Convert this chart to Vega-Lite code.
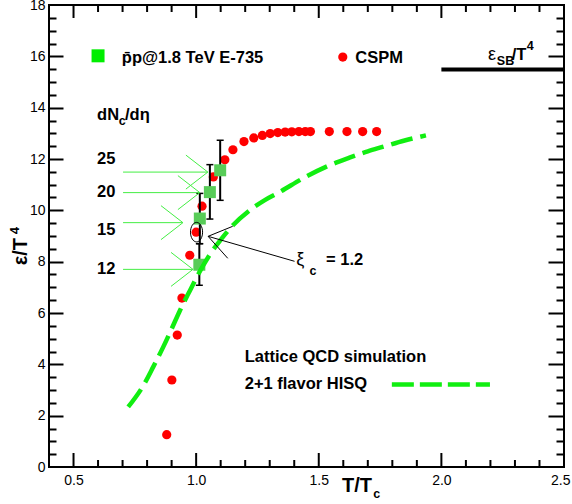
{
  "$schema": "https://vega.github.io/schema/vega-lite/v6.json",
  "width": 515,
  "height": 462,
  "autosize": {"type": "none"},
  "padding": {"left": 49, "top": 5, "right": 8, "bottom": 37},
  "background": "white",
  "config": {
    "view": {"stroke": "black", "strokeWidth": 2},
    "axis": {"labelFont": "Liberation Sans", "labelFontSize": 14, "labelColor": "black", "tickColor": "black", "grid": false, "domain": false, "labelFlush": false, "labelOverlap": false, "labelBound": false},
    "text": {"font": "Liberation Sans", "color": "black"}
  },
  "datasets": {
    "cspm": [
      {"T": 0.88, "e": 1.26}, {"T": 0.901, "e": 3.39}, {"T": 0.923, "e": 5.14}, {"T": 0.942, "e": 6.58},
      {"T": 0.974, "e": 8.25}, {"T": 1.0, "e": 9.15}, {"T": 1.024, "e": 10.16}, {"T": 1.07, "e": 11.3},
      {"T": 1.117, "e": 11.97}, {"T": 1.15, "e": 12.36}, {"T": 1.195, "e": 12.68}, {"T": 1.235, "e": 12.82},
      {"T": 1.27, "e": 12.92}, {"T": 1.302, "e": 12.99}, {"T": 1.333, "e": 13.03}, {"T": 1.363, "e": 13.05},
      {"T": 1.39, "e": 13.06}, {"T": 1.419, "e": 13.07}, {"T": 1.445, "e": 13.07}, {"T": 1.466, "e": 13.07},
      {"T": 1.543, "e": 13.07}, {"T": 1.615, "e": 13.07}, {"T": 1.679, "e": 13.07}, {"T": 1.736, "e": 13.07}
    ],
    "e735": [
      {"T": 1.013, "e": 7.88, "lo": 7.08, "hi": 8.7},
      {"T": 1.015, "e": 9.68, "lo": 8.7, "hi": 10.66},
      {"T": 1.056, "e": 10.71, "lo": 9.66, "hi": 11.78},
      {"T": 1.098, "e": 11.56, "lo": 10.39, "hi": 12.73}
    ],
    "qcd": [
      {"T": 0.723, "e": 2.34}, {"T": 0.785, "e": 3.18}, {"T": 0.825, "e": 3.9}, {"T": 0.866, "e": 4.68},
      {"T": 0.9, "e": 5.38}, {"T": 0.934, "e": 6.1}, {"T": 0.975, "e": 6.88}, {"T": 1.015, "e": 7.62},
      {"T": 1.063, "e": 8.38}, {"T": 1.1, "e": 8.85}, {"T": 1.15, "e": 9.42}, {"T": 1.218, "e": 10.0},
      {"T": 1.28, "e": 10.4}, {"T": 1.34, "e": 10.71}, {"T": 1.44, "e": 11.27}, {"T": 1.543, "e": 11.75},
      {"T": 1.625, "e": 12.05}, {"T": 1.7, "e": 12.3}, {"T": 1.76, "e": 12.47}, {"T": 1.85, "e": 12.72},
      {"T": 1.937, "e": 12.92}
    ],
    "qcdkey": [{"T": 1.798, "e": 3.21}, {"T": 2.198, "e": 3.21}],
    "sb": [{"T": 2.0, "T2": 2.5, "e": 15.49}],
    "xmaj": [{"v": 0.5}, {"v": 1.0}, {"v": 1.5}, {"v": 2.0}],
    "xmin": [{"v": 0.6}, {"v": 0.7}, {"v": 0.8}, {"v": 0.9}, {"v": 1.1}, {"v": 1.2}, {"v": 1.3}, {"v": 1.4},
             {"v": 1.6}, {"v": 1.7}, {"v": 1.8}, {"v": 1.9}, {"v": 2.1}, {"v": 2.2}, {"v": 2.3}, {"v": 2.4}],
    "arrows": [
      {"a": 0.702, "b": 11.49, "a2": 1.0476, "b2": 11.49},
      {"a": 1.0476, "b": 11.49, "a2": 0.9582, "b2": 12.152},
      {"a": 1.0476, "b": 11.49, "a2": 0.9582, "b2": 10.828},
      {"a": 0.702, "b": 10.69, "a2": 1.015, "b2": 10.69},
      {"a": 1.015, "b": 10.69, "a2": 0.9256, "b2": 11.352},
      {"a": 1.015, "b": 10.69, "a2": 0.9256, "b2": 10.028},
      {"a": 0.702, "b": 9.52, "a2": 0.946, "b2": 9.52},
      {"a": 0.946, "b": 9.52, "a2": 0.8566, "b2": 10.182},
      {"a": 0.946, "b": 9.52, "a2": 0.8566, "b2": 8.858},
      {"a": 0.702, "b": 7.7, "a2": 0.987, "b2": 7.7},
      {"a": 0.987, "b": 7.7, "a2": 0.8976, "b2": 8.362},
      {"a": 0.987, "b": 7.7, "a2": 0.8976, "b2": 7.038}
    ],
    "xi": [
      {"a": 1.0488, "b": 8.987, "a2": 1.149, "b2": 9.377},
      {"a": 1.0488, "b": 8.987, "a2": 1.1289, "b2": 8.131},
      {"a": 1.0488, "b": 8.987, "a2": 1.4012, "b2": 8.014}
    ],
    "circled": [{"T": 1.0016, "e": 9.15}],
    "keysq": [{"T": 0.6, "e": 16.02}],
    "keydot": [{"T": 1.598, "e": 15.97}],
    "tbold": [
      {"a": 0.697, "b": 15.73, "t": "p̄p@1.8 TeV E-735"},
      {"a": 1.649, "b": 15.73, "t": "CSPM"},
      {"a": 0.596, "b": 13.51, "t": "dN"},
      {"a": 0.71, "b": 13.51, "t": "/dη"},
      {"a": 0.596, "b": 11.82, "t": "25"},
      {"a": 0.596, "b": 10.52, "t": "20"},
      {"a": 0.596, "b": 9.03, "t": "15"},
      {"a": 0.596, "b": 7.53, "t": "12"},
      {"a": 1.53, "b": 7.857, "t": "= 1.2"},
      {"a": 1.198, "b": 4.09, "t": "Lattice QCD simulation"},
      {"a": 1.198, "b": 3.05, "t": "2+1 flavor HISQ"},
      {"a": 2.287, "b": 15.84, "t": "/T"}
    ],
    "treg": [
      {"a": 2.19, "b": 15.84, "t": "ε"},
      {"a": 1.408, "b": 7.857, "t": "ξ"}
    ],
    "tsub": [
      {"a": 0.684, "b": 13.31, "t": "c"},
      {"a": 1.462, "b": 7.468, "t": "c"},
      {"a": 2.226, "b": 15.65, "t": "SB"},
      {"a": 2.348, "b": 16.23, "t": "4"},
      {"a": 1.722, "b": -1.22, "t": "c"}
    ],
    "xtitle": [{"a": 1.595, "b": -0.974, "t": "T/T"}],
    "ytitle": [{"a": 0.3118, "b": 7.857, "t": "ε/T"}],
    "ysup": [{"a": 0.279, "b": 9.07, "t": "4"}]
  },
  "layer": [
    {
      "data": {"name": "cspm"},
      "mark": {"type": "point", "filled": true, "shape": "circle", "size": 85, "color": "#ff0000", "opacity": 1},
      "encoding": {
        "x": {"field": "T", "type": "quantitative", "scale": {"domain": [0.4, 2.5], "nice": false, "zero": false},
              "axis": {"orient": "bottom", "values": [0.5, 1, 1.5, 2, 2.5], "ticks": false, "labelPadding": 6, "labelFlush": true, "labelFlushOffset": 6, "title": null}},
        "y": {"field": "e", "type": "quantitative", "scale": {"domain": [0, 18], "nice": false, "zero": false},
              "axis": {"orient": "left", "values": [0, 2, 4, 6, 8, 10, 12, 14, 16, 18], "ticks": false, "labelPadding": 4, "title": null}}
      }
    },
    {
      "data": {"name": "e735"},
      "mark": {"type": "rule", "color": "black", "strokeWidth": 2},
      "encoding": {
        "x": {"field": "T", "type": "quantitative", "scale": {"domain": [0.4, 2.5], "nice": false, "zero": false}, "axis": null},
        "y": {"field": "lo", "type": "quantitative", "scale": {"domain": [0, 18], "nice": false, "zero": false},
              "axis": {"orient": "left", "values": [0.5, 1, 1.5, 2, 2.5, 3, 3.5, 4, 4.5, 5, 5.5, 6, 6.5, 7, 7.5, 8, 8.5, 9, 9.5, 10, 10.5, 11, 11.5, 12, 12.5, 13, 13.5, 14, 14.5, 15, 15.5, 16, 16.5, 17, 17.5], "labels": false, "tickWidth": 2, "title": null,
                       "tickSize": {"condition": {"test": "datum.value % 2 == 0", "value": -14}, "value": -7}}},
        "y2": {"field": "hi"}
      }
    },
    {
      "data": {"name": "e735"},
      "mark": {"type": "point", "shape": "stroke", "size": 49, "filled": false, "stroke": "black", "strokeWidth": 1.5, "opacity": 1},
      "encoding": {
        "x": {"field": "T", "type": "quantitative", "scale": {"domain": [0.4, 2.5], "nice": false, "zero": false}, "axis": null},
        "y": {"field": "lo", "type": "quantitative", "scale": {"domain": [0, 18], "nice": false, "zero": false},
              "axis": {"orient": "right", "values": [0.5, 1, 1.5, 2, 2.5, 3, 3.5, 4, 4.5, 5, 5.5, 6, 6.5, 7, 7.5, 8, 8.5, 9, 9.5, 10, 10.5, 11, 11.5, 12, 12.5, 13, 13.5, 14, 14.5, 15, 15.5, 16, 16.5, 17, 17.5], "labels": false, "tickWidth": 2, "title": null,
                       "tickSize": {"condition": {"test": "datum.value % 2 == 0", "value": -16}, "value": -8}}}
      }
    },
    {
      "data": {"name": "e735"},
      "mark": {"type": "point", "shape": "stroke", "size": 49, "filled": false, "stroke": "black", "strokeWidth": 1.5, "opacity": 1},
      "encoding": {
        "x": {"field": "T", "type": "quantitative", "scale": {"domain": [0.4, 2.5], "nice": false, "zero": false}, "axis": null},
        "y": {"field": "hi", "type": "quantitative", "scale": {"domain": [0, 18], "nice": false, "zero": false}, "axis": null}
      }
    },
    {
      "data": {"name": "xmaj"},
      "mark": {"type": "rule", "color": "black", "strokeWidth": 2},
      "encoding": {
        "x": {"field": "v", "type": "quantitative", "scale": {"domain": [0.4, 2.5], "nice": false, "zero": false}, "axis": null},
        "y": {"datum": 0, "type": "quantitative", "scale": {"domain": [0, 18], "nice": false, "zero": false}, "axis": null},
        "y2": {"datum": 0.545}
      }
    },
    {
      "data": {"name": "xmaj"},
      "mark": {"type": "rule", "color": "black", "strokeWidth": 2},
      "encoding": {
        "x": {"field": "v", "type": "quantitative", "scale": {"domain": [0.4, 2.5], "nice": false, "zero": false}, "axis": null},
        "y": {"datum": 18, "type": "quantitative", "scale": {"domain": [0, 18], "nice": false, "zero": false}, "axis": null},
        "y2": {"datum": 17.494}
      }
    },
    {
      "data": {"name": "xmin"},
      "mark": {"type": "rule", "color": "black", "strokeWidth": 2},
      "encoding": {
        "x": {"field": "v", "type": "quantitative", "scale": {"domain": [0.4, 2.5], "nice": false, "zero": false}, "axis": null},
        "y": {"datum": 0, "type": "quantitative", "scale": {"domain": [0, 18], "nice": false, "zero": false}, "axis": null},
        "y2": {"datum": 0.273}
      }
    },
    {
      "data": {"name": "xmin"},
      "mark": {"type": "rule", "color": "black", "strokeWidth": 2},
      "encoding": {
        "x": {"field": "v", "type": "quantitative", "scale": {"domain": [0.4, 2.5], "nice": false, "zero": false}, "axis": null},
        "y": {"datum": 18, "type": "quantitative", "scale": {"domain": [0, 18], "nice": false, "zero": false}, "axis": null},
        "y2": {"datum": 17.727}
      }
    },
    {
      "data": {"name": "e735"},
      "mark": {"type": "point", "shape": "square", "filled": true, "size": 144, "color": "#58cc58", "opacity": 1},
      "encoding": {
        "x": {"field": "T", "type": "quantitative", "scale": {"domain": [0.4, 2.5], "nice": false, "zero": false}, "axis": null},
        "y": {"field": "e", "type": "quantitative", "scale": {"domain": [0, 18], "nice": false, "zero": false}, "axis": null}
      }
    },
    {
      "data": {"name": "qcd"},
      "mark": {"type": "line", "color": "#11ee11", "strokeWidth": 4.5, "strokeDash": [22, 8], "strokeCap": "butt", "interpolate": "monotone"},
      "encoding": {
        "x": {"field": "T", "type": "quantitative", "scale": {"domain": [0.4, 2.5], "nice": false, "zero": false}, "axis": null},
        "y": {"field": "e", "type": "quantitative", "scale": {"domain": [0, 18], "nice": false, "zero": false}, "axis": null}
      }
    },
    {
      "data": {"name": "qcdkey"},
      "mark": {"type": "line", "color": "#11ee11", "strokeWidth": 4.5, "strokeDash": [22, 6], "strokeCap": "butt"},
      "encoding": {
        "x": {"field": "T", "type": "quantitative", "scale": {"domain": [0.4, 2.5], "nice": false, "zero": false}, "axis": null},
        "y": {"field": "e", "type": "quantitative", "scale": {"domain": [0, 18], "nice": false, "zero": false}, "axis": null}
      }
    },
    {
      "data": {"name": "sb"},
      "mark": {"type": "rule", "color": "black", "strokeWidth": 4},
      "encoding": {
        "x": {"field": "T", "type": "quantitative", "scale": {"domain": [0.4, 2.5], "nice": false, "zero": false}, "axis": null},
        "x2": {"field": "T2"},
        "y": {"field": "e", "type": "quantitative", "scale": {"domain": [0, 18], "nice": false, "zero": false}, "axis": null}
      }
    },
    {
      "data": {"name": "arrows"},
      "mark": {"type": "rule", "color": "#44ee44", "strokeWidth": 1},
      "encoding": {
        "x": {"field": "a", "type": "quantitative", "scale": {"domain": [0.4, 2.5], "nice": false, "zero": false}, "axis": null},
        "x2": {"field": "a2"},
        "y": {"field": "b", "type": "quantitative", "scale": {"domain": [0, 18], "nice": false, "zero": false}, "axis": null},
        "y2": {"field": "b2"}
      }
    },
    {
      "data": {"name": "xi"},
      "mark": {"type": "rule", "color": "black", "strokeWidth": 1},
      "encoding": {
        "x": {"field": "a", "type": "quantitative", "scale": {"domain": [0.4, 2.5], "nice": false, "zero": false}, "axis": null},
        "x2": {"field": "a2"},
        "y": {"field": "b", "type": "quantitative", "scale": {"domain": [0, 18], "nice": false, "zero": false}, "axis": null},
        "y2": {"field": "b2"}
      }
    },
    {
      "data": {"name": "circled"},
      "mark": {"type": "point", "shape": "M -0.62 0 A 0.62 1 0 1 1 0.62 0 A 0.62 1 0 1 1 -0.62 0 Z", "size": 380, "filled": false, "stroke": "black", "strokeWidth": 1, "opacity": 1},
      "encoding": {
        "x": {"field": "T", "type": "quantitative", "scale": {"domain": [0.4, 2.5], "nice": false, "zero": false}, "axis": null},
        "y": {"field": "e", "type": "quantitative", "scale": {"domain": [0, 18], "nice": false, "zero": false}, "axis": null}
      }
    },
    {
      "data": {"name": "keysq"},
      "mark": {"type": "point", "shape": "square", "filled": true, "size": 169, "color": "#00ee00", "opacity": 1},
      "encoding": {
        "x": {"field": "T", "type": "quantitative", "scale": {"domain": [0.4, 2.5], "nice": false, "zero": false}, "axis": null},
        "y": {"field": "e", "type": "quantitative", "scale": {"domain": [0, 18], "nice": false, "zero": false}, "axis": null}
      }
    },
    {
      "data": {"name": "keydot"},
      "mark": {"type": "point", "shape": "circle", "filled": true, "size": 85, "color": "#ff0000", "opacity": 1},
      "encoding": {
        "x": {"field": "T", "type": "quantitative", "scale": {"domain": [0.4, 2.5], "nice": false, "zero": false}, "axis": null},
        "y": {"field": "e", "type": "quantitative", "scale": {"domain": [0, 18], "nice": false, "zero": false}, "axis": null}
      }
    },
    {
      "data": {"name": "tbold"},
      "mark": {"type": "text", "fontSize": 16.5, "fontWeight": "bold", "align": "left", "baseline": "alphabetic"},
      "encoding": {
        "x": {"field": "a", "type": "quantitative", "scale": {"domain": [0.4, 2.5], "nice": false, "zero": false}, "axis": null},
        "y": {"field": "b", "type": "quantitative", "scale": {"domain": [0, 18], "nice": false, "zero": false}, "axis": null},
        "text": {"field": "t"}
      }
    },
    {
      "data": {"name": "treg"},
      "mark": {"type": "text", "fontSize": 18, "fontWeight": "normal", "align": "left", "baseline": "alphabetic"},
      "encoding": {
        "x": {"field": "a", "type": "quantitative", "scale": {"domain": [0.4, 2.5], "nice": false, "zero": false}, "axis": null},
        "y": {"field": "b", "type": "quantitative", "scale": {"domain": [0, 18], "nice": false, "zero": false}, "axis": null},
        "text": {"field": "t"}
      }
    },
    {
      "data": {"name": "tsub"},
      "mark": {"type": "text", "fontSize": 12.5, "fontWeight": "bold", "align": "left", "baseline": "alphabetic"},
      "encoding": {
        "x": {"field": "a", "type": "quantitative", "scale": {"domain": [0.4, 2.5], "nice": false, "zero": false}, "axis": null},
        "y": {"field": "b", "type": "quantitative", "scale": {"domain": [0, 18], "nice": false, "zero": false}, "axis": null},
        "text": {"field": "t"}
      }
    },
    {
      "data": {"name": "xtitle"},
      "mark": {"type": "text", "fontSize": 20, "fontWeight": "bold", "align": "left", "baseline": "alphabetic"},
      "encoding": {
        "x": {"field": "a", "type": "quantitative", "scale": {"domain": [0.4, 2.5], "nice": false, "zero": false}, "axis": null},
        "y": {"field": "b", "type": "quantitative", "scale": {"domain": [0, 18], "nice": false, "zero": false}, "axis": null},
        "text": {"field": "t"}
      }
    },
    {
      "data": {"name": "ytitle"},
      "mark": {"type": "text", "fontSize": 20, "fontWeight": "bold", "align": "left", "baseline": "alphabetic", "angle": 270},
      "encoding": {
        "x": {"field": "a", "type": "quantitative", "scale": {"domain": [0.4, 2.5], "nice": false, "zero": false}, "axis": null},
        "y": {"field": "b", "type": "quantitative", "scale": {"domain": [0, 18], "nice": false, "zero": false}, "axis": null},
        "text": {"field": "t"}
      }
    },
    {
      "data": {"name": "ysup"},
      "mark": {"type": "text", "fontSize": 13, "fontWeight": "bold", "align": "left", "baseline": "alphabetic", "angle": 270},
      "encoding": {
        "x": {"field": "a", "type": "quantitative", "scale": {"domain": [0.4, 2.5], "nice": false, "zero": false}, "axis": null},
        "y": {"field": "b", "type": "quantitative", "scale": {"domain": [0, 18], "nice": false, "zero": false}, "axis": null},
        "text": {"field": "t"}
      }
    }
  ],
  "resolve": {"axis": {"x": "independent", "y": "independent"}}
}
